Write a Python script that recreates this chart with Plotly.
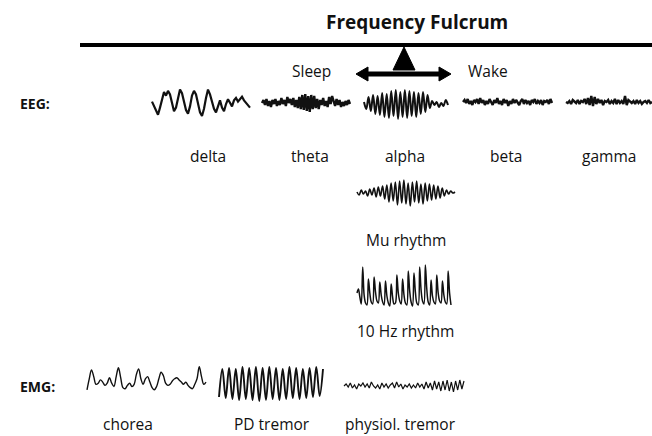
import plotly.graph_objects as go

# ---- waveform samples (amplitude in px, + = up) ----
delta = [2,-2,-6,-9,-3,5,10,7,11,8,1,-6,-3,6,12,9,3,-5,-8,-2,7,11,8,0,-7,-10,-4,5,12,8,2,-4,-7,-2,3,-3,-6,0,4,1,-2,3,5,2,4,6,3,1,-1,-3]
theta = [0,3,-2,4,-3,2,-4,3,-1,4,-3,2,-2,5,-1,3,-3,6,0,4,-2,5,-4,3,-5,6,-6,8,-7,9,-8,7,-9,8,-6,7,-5,4,-6,3,-2,5,-3,2,-4,6,-1,7,2,-3,4,-2,3,-4,1,-3,2,-2,3,-1]
alpha = [2,-5,7,-7,9,-10,8,-11,11,-13,10,-14,13,-12,14,-15,12,-13,14,-14,13,-12,12,-13,11,-10,12,-8,9,-4,3,-1,2,-3,1,-2,4,-1]
beta = [0,2,-1,3,-2,1,-3,2,0,3,-2,4,-1,2,-3,1,-2,3,0,-3,2,-1,4,-2,1,-3,3,-1,2,-4,1,-2,3,-1,2,0,-3,1,3,-2,2,-1,1,-3,2,0,3,-2,1,-1,2,-3,1,0,2,-2,3,-1]
gamma = [0,-1,1,-2,2,0,-1,2,-2,1,0,3,-2,4,-3,6,-4,5,-2,3,-1,2,-3,1,0,2,-2,1,-1,3,-2,2,-1,1,-2,6,-3,2,0,-1,1,-2,2,-1,1,-2,0,1,-1,2,-1,0]
mu = [1,-2,3,-1,2,-3,4,-2,5,-4,6,-3,7,-6,8,-9,10,-8,11,-12,12,-10,13,-11,10,-13,11,-9,12,-10,9,-11,10,-8,9,-7,8,-6,7,-5,5,-3,3,-1,2,0,1]
hz10 = [-6,-2,-10,-17,20,-8,-16,-18,8,-6,-15,-17,10,-5,-14,-16,5,-8,-15,-18,6,-9,-16,-19,3,-10,-17,-16,12,-6,-14,-17,8,-8,-16,-18,16,-4,-15,-19,14,-5,-16,-18,20,-3,-14,-17,22,-2,-15,-18,7,-9,-15,-17,12,-6,-14,-16,6,-8,-15,-17,16,-6,-18]
chorea = [-8,2,10,4,-3,-2,1,-1,-4,-2,3,-2,-5,4,12,3,-6,-7,-4,-2,-5,-3,6,11,2,-3,2,4,-1,-6,-8,-5,2,8,5,-2,-4,-3,0,2,3,1,-1,-3,-1,-4,-6,-7,-3,2,13,4,-3,-1]
pd_tremor = [-14,14,-15,15,-16,14,-17,16,-16,15,-17,16,-18,15,-17,16,-16,15,-17,14,-16,16,-15,15,-16,14,-15,15,-14,16,-13,14]
physiol = [0,2,-1,3,-2,1,-3,2,0,3,-1,2,-2,4,0,-2,1,-3,3,-1,2,-2,1,3,-2,4,-1,2,-3,1,-1,2,-2,1,-2,3,-1,2,-3,4,-2,3,-4,5,-3,4,-5,5,-4,6,-5,4,-6,5,-4,6,-3,5]

eeg_labels = ["delta", "theta", "alpha", "beta", "gamma"]
extra_labels = ["Mu rhythm", "10 Hz rhythm"]
emg_labels = ["chorea", "PD tremor", "physiol. tremor"]

W, H = 652, 436
fig = go.Figure()

def wave(vals, x0, x1, yc, width=1.8, shape="linear", scale=1.0):
    n = len(vals)
    xs = [x0 + (x1 - x0) * i / (n - 1) for i in range(n)]
    ys = [yc - v * scale for v in vals]
    fig.add_trace(go.Scatter(x=xs, y=ys, mode="lines", line=dict(color="#111111", width=width, shape=shape),
                             hoverinfo="skip", showlegend=False))

# EEG row
wave(delta, 152, 250, 104, 2.2, scale=1.2)
wave(theta, 262, 350, 103, 2.4)
wave(alpha, 364, 448, 104, 2.0, "spline")
wave(beta, 463, 552, 102, 2.4)
wave(gamma, 566, 652, 102, 2.4)
# Mu & 10 Hz
wave(mu, 357, 455, 193, 1.6, "spline")
wave(hz10, 357, 451, 287, 1.5, "spline")
# EMG row
wave(chorea, 87, 206, 381, 1.4, "spline", scale=1.1)
wave(pd_tremor, 219, 323, 383, 1.9, "spline")
wave(physiol, 344, 464, 386, 1.2)

font_txt = "'Open Sans', sans-serif"
ann = []
def txt(s, x, y, size=15.5, bold=False, xanchor="center"):
    ann.append(dict(x=x, y=y, xref="x", yref="y", text=f"<b>{s}</b>" if bold else s, showarrow=False,
                    xanchor=xanchor, yanchor="middle", font=dict(family=font_txt, size=size, color="#111111")))

txt("Frequency Fulcrum", 417, 22, 19, True)
txt("Sleep", 311, 71)
txt("Wake", 488, 71)
txt("EEG:", 18, 103, 14, True, "left")
txt("EMG:", 18, 386, 14, True, "left")
for lab, xc in zip(eeg_labels, [208, 310, 405, 506, 609]):
    txt(lab, xc, 156)
txt(extra_labels[0], 406, 240)
txt(extra_labels[1], 405, 331)
for lab, xc in zip(emg_labels, [128, 272, 400]):
    txt(lab, xc, 424)

shapes = [
    dict(type="line", x0=80, x1=652, y0=45, y1=45, line=dict(color="black", width=4)),
    dict(type="path", path="M 404 47 L 393 70 L 415 70 Z", fillcolor="black", line=dict(color="black", width=1)),
    dict(type="line", x0=366, x1=441, y0=74, y1=74, line=dict(color="black", width=5)),
    dict(type="path", path="M 356 74 L 368 67 L 368 81 Z", fillcolor="black", line=dict(color="black", width=1)),
    dict(type="path", path="M 451 74 L 439 67 L 439 81 Z", fillcolor="black", line=dict(color="black", width=1)),
]

fig.update_layout(
    width=W, height=H, margin=dict(l=0, r=0, t=0, b=0),
    paper_bgcolor="white", plot_bgcolor="white",
    xaxis=dict(range=[0, W], visible=False, fixedrange=True),
    yaxis=dict(range=[H, 0], visible=False, fixedrange=True),
    annotations=ann, shapes=shapes,
)
fig.write_html("out.html", config={"displayModeBar": False},
               post_script="document.body.style.margin='0';document.body.style.overflow='hidden';")
